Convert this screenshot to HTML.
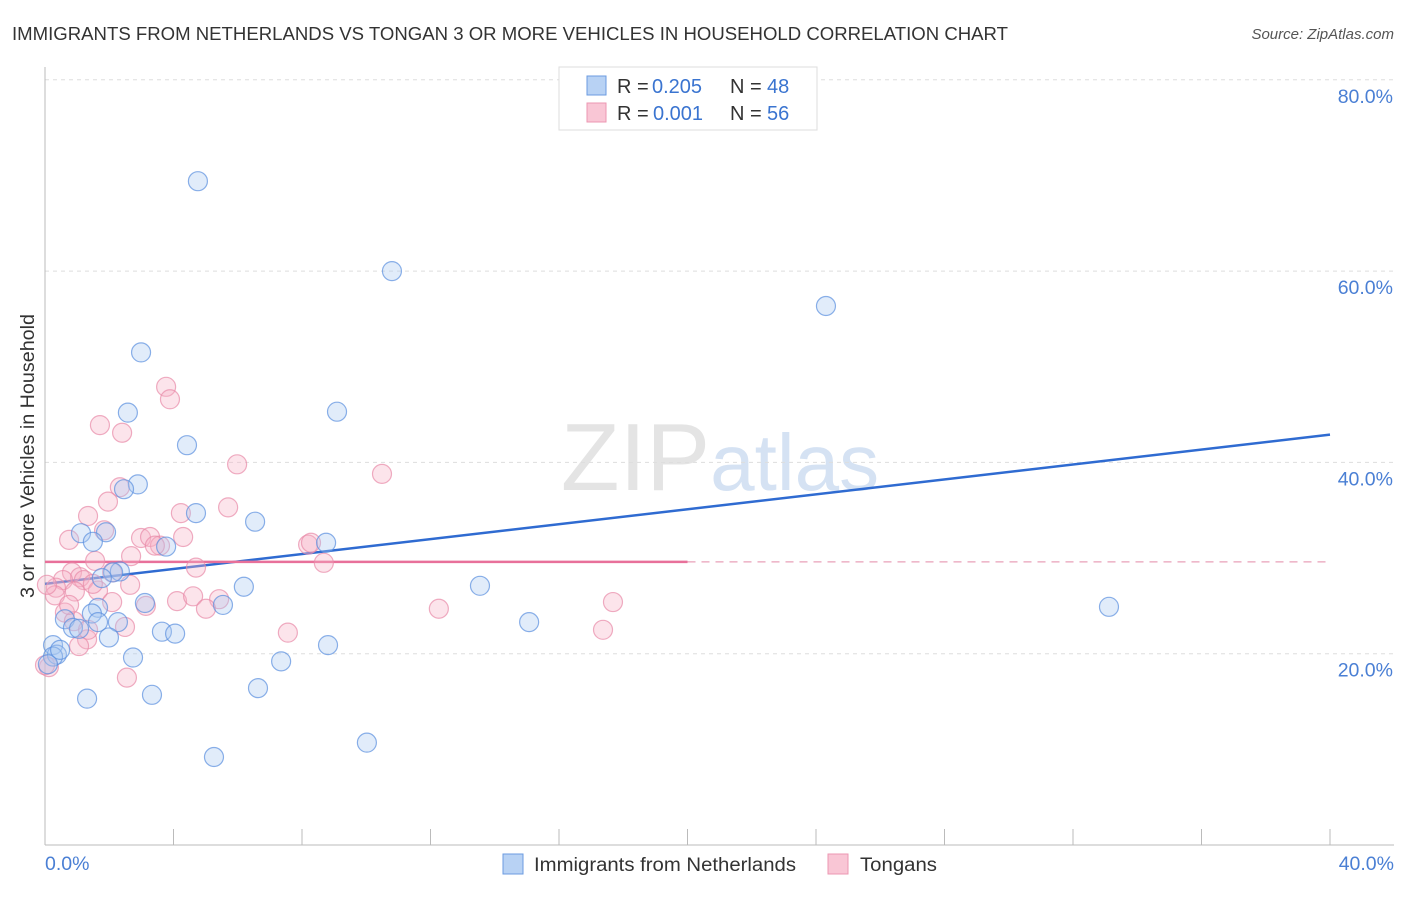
<!DOCTYPE html>
<html><head><meta charset="utf-8"><style>
body{margin:0;background:#fff;font-family:"Liberation Sans",sans-serif;}
svg text{font-family:"Liberation Sans",sans-serif;}
</style></head><body>
<svg id="chart" width="1406" height="892" xmlns="http://www.w3.org/2000/svg">
<text x="12" y="40" font-size="18" fill="#333" textLength="996" lengthAdjust="spacingAndGlyphs">IMMIGRANTS FROM NETHERLANDS VS TONGAN 3 OR MORE VEHICLES IN HOUSEHOLD CORRELATION CHART</text>
<text x="1394" y="39" font-size="15" fill="#555" text-anchor="end" font-style="italic">Source: ZipAtlas.com</text>
<text x="720" y="490" font-size="96" text-anchor="middle" fill="#e4e4e4" font-family="Liberation Serif">ZIP<tspan fill="#d5e2f3" font-family="Liberation Sans" font-size="80">atlas</tspan></text>
<text transform="translate(34,456) rotate(-90)" font-size="19" fill="#333" text-anchor="middle" textLength="284" lengthAdjust="spacingAndGlyphs">3 or more Vehicles in Household</text>
<g id="grid"></g><g id="axes"></g><g id="trend"></g><g id="pts"></g>
<g>
<rect x="559" y="67" width="258" height="63" fill="#fff" stroke="#ddd"/>
<rect x="587" y="76" width="19" height="19" fill="#b8d2f4" stroke="#6b9be0"/>
<rect x="587" y="103" width="19" height="19" fill="#f9c6d5" stroke="#ec97b2"/>
<text x="617" y="93" font-size="20" fill="#333">R =</text><text x="652" y="93" font-size="20" fill="#3a74d0">0.205</text>
<text x="730" y="93" font-size="20" fill="#333">N =</text><text x="767" y="93" font-size="20" fill="#3a74d0">48</text>
<text x="617" y="120" font-size="20" fill="#333">R =</text><text x="653" y="120" font-size="20" fill="#3a74d0">0.001</text>
<text x="730" y="120" font-size="20" fill="#333">N =</text><text x="767" y="120" font-size="20" fill="#3a74d0">56</text>
</g>
<g>
<rect x="503" y="854" width="20" height="20" fill="#b8d2f4" stroke="#6b9be0"/>
<text x="534" y="871" font-size="19" fill="#333" textLength="262" lengthAdjust="spacingAndGlyphs">Immigrants from Netherlands</text>
<rect x="828" y="854" width="20" height="20" fill="#f9c6d5" stroke="#ec97b2"/>
<text x="860" y="871" font-size="19" fill="#333" textLength="77" lengthAdjust="spacingAndGlyphs">Tongans</text>
</g>
</svg>
<script>
const blueX=[4.76,10.80,24.31,2.99,2.58,9.09,4.42,2.89,2.46,4.70,6.54,1.12,1.90,1.49,3.77,8.75,2.33,2.12,1.77,13.54,6.19,3.11,1.65,5.54,33.12,0.62,1.46,2.27,15.07,0.87,1.65,1.06,3.64,4.05,1.99,0.25,8.81,2.74,7.35,0.37,0.25,6.63,3.33,1.31,10.02,5.26,0.09,0.47];
const blueY=[69.4,60.0,56.35,51.5,45.2,45.3,41.8,37.7,37.2,34.7,33.8,32.6,32.7,31.7,31.2,31.6,28.6,28.5,27.9,27.1,27.0,25.3,24.8,25.1,24.9,23.6,24.2,23.3,23.3,22.7,23.3,22.6,22.3,22.1,21.7,20.9,20.9,19.6,19.2,19.9,19.7,16.4,15.7,15.3,10.7,9.2,18.9,20.4];
const pinkX=[3.77,3.89,1.71,2.40,5.98,10.49,2.33,1.96,5.70,1.34,4.23,1.84,2.99,3.27,0.75,4.30,3.58,3.42,8.19,8.28,2.68,1.56,4.70,8.68,0.84,1.09,2.09,0.56,1.21,0.34,2.65,0.31,0.93,1.65,1.49,0.06,2.09,4.11,4.61,5.42,3.14,5.01,12.26,17.68,0.62,2.49,1.31,1.06,7.56,17.37,2.55,0.12,0.0,0.90,1.34,0.75];
const pinkY=[47.9,46.6,43.9,43.1,39.8,38.8,37.4,35.9,35.3,34.4,34.7,32.9,32.1,32.2,31.9,32.2,31.3,31.3,31.4,31.6,30.2,29.7,29.0,29.5,28.5,28.0,28.5,27.7,27.7,26.9,27.2,26.1,26.5,26.6,27.3,27.2,25.4,25.5,26.0,25.7,25.0,24.7,24.7,25.4,24.3,22.8,21.5,20.8,22.2,22.5,17.5,18.6,18.8,23.4,22.5,25.1];
const yTicks=[20,40,60,80];
const xTickLabels=["0.0%","40.0%"];
const blueTrend=[27.3,42.9];
const pinkTrend=[29.6,29.6];
const NS="http://www.w3.org/2000/svg";
const X=v=>45+v/40*1285, Y=v=>845-v*9.565;
function mk(tag,at,parent){const e=document.createElementNS(NS,tag);for(const k in at)e.setAttribute(k,at[k]);parent.appendChild(e);return e;}
const grid=document.getElementById('grid'),axes=document.getElementById('axes'),trend=document.getElementById('trend'),pts=document.getElementById('pts');
yTicks.forEach(t=>{
 const l=mk('line',{x1:45,x2:1394,y1:Y(t),y2:Y(t),stroke:'#ddd','stroke-dasharray':'4,4'},grid);
 
 
 const tx=mk('text',{x:1393,y:Y(t)+23,'font-size':19.5,fill:'#4a7fd4','text-anchor':'end'},grid);
 tx.textContent=t.toFixed(1)+'%';
 
 
});
const ax=mk('line',{x1:45,x2:1394,y1:845,y2:845,stroke:'#bbb'},axes);


const ay=mk('line',{x1:45,x2:45,y1:67,y2:845,stroke:'#bbb'},axes);


for(let i=0;i<=10;i++){const t=mk('line',{x1:X(i*4),x2:X(i*4),y1:829,y2:845,stroke:'#bbb'},axes);
 
 }
[[0,'start',45],[40,'end',1394]].forEach((d,i)=>{const t=mk('text',{x:d[2],y:870,'font-size':19.5,fill:'#4a7fd4','text-anchor':d[1]},axes);t.textContent=xTickLabels[i];
 
 });
function draw(xs,ys,fill,stroke,name){xs.forEach((x,i)=>{const c=mk('circle',{cx:X(x),cy:Y(ys[i]),r:9.5,fill:fill,'fill-opacity':0.35,stroke:stroke,'stroke-opacity':0.7,'stroke-width':1.2},pts);
 
 });}
draw(pinkX,pinkY,'#f5b3c7','#e88aa8','tongan-point');
draw(blueX,blueY,'#a9c8f1','#5a8ede','netherlands-point');
const bt=mk('line',{x1:X(0),y1:Y(blueTrend[0]),x2:X(40),y2:Y(blueTrend[1]),stroke:'#2f6bd1','stroke-width':2.5},trend);


const pt=mk('line',{x1:X(0),y1:Y(pinkTrend[0]),x2:X(20),y2:Y(pinkTrend[0]+(pinkTrend[1]-pinkTrend[0])/2),stroke:'#e8709a','stroke-width':2.5},trend);


const pd=mk('line',{x1:X(20),y1:Y(pinkTrend[0]+(pinkTrend[1]-pinkTrend[0])/2),x2:X(40),y2:Y(pinkTrend[1]),stroke:'#e8a0b8','stroke-width':1.3,'stroke-dasharray':'8,6'},trend);


</script>
</body></html>
